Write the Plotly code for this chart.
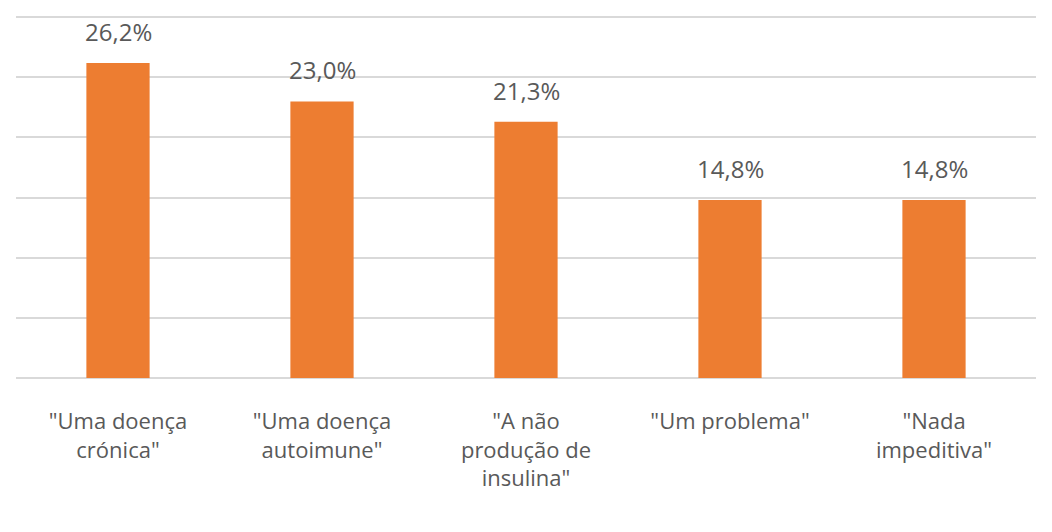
import plotly.graph_objects as go

categories = ['"Uma doença<br>crónica"', '"Uma doença<br>autoimune"',
              '"A não<br>produção de<br>insulina"', '"Um problema"',
              '"Nada<br>impeditiva"']
values = [26.2, 23.0, 21.3, 14.8, 14.8]

ORANGE = "#ED7D31"
GRAY = "#595959"
FONT = "Open Sans"

fig = go.Figure()
fig.add_trace(go.Bar(
    x=categories, y=values, marker=dict(color=ORANGE, line=dict(width=0)),
    width=0.31, hoverinfo="skip",
))

for c, v in zip(categories, values):
    fig.add_annotation(
        x=c, y=v, text=f"{v:.1f}%".replace(".", ","), showarrow=False,
        yanchor="bottom", yshift=13,
        font=dict(family=FONT, size=24, color=GRAY),
    )

fig.update_layout(
    width=1052, height=532,
    margin=dict(l=8, r=24, t=8, b=162),
    paper_bgcolor="white", plot_bgcolor="white",
    showlegend=False,
    separators=",.",
    font=dict(family=FONT, size=21, color=GRAY),
)
fig.update_xaxes(showline=False, ticks="", automargin=False,
                 tickfont=dict(size=22, color=GRAY), ticklabelstandoff=28)
fig.update_yaxes(range=[0, 30.1], dtick=5, showticklabels=False, automargin=False,
                 gridcolor="#D9D9D9", gridwidth=1.5, zeroline=True,
                 zerolinecolor="#D9D9D9", zerolinewidth=1.5)

fig.write_html("out.html")
